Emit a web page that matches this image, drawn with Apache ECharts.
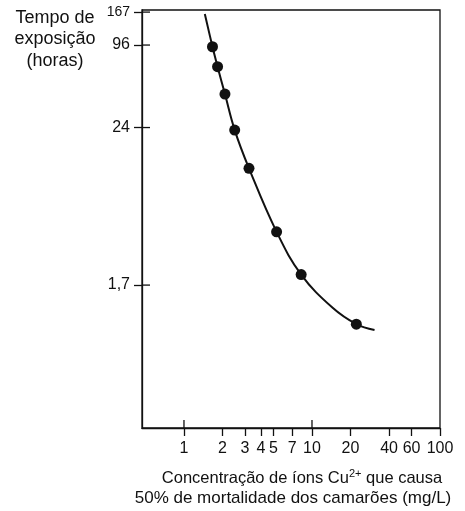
<!DOCTYPE html>
<html>
<head>
<meta charset="utf-8">
<script src="https://cdn.jsdelivr.net/npm/echarts@6/dist/echarts.min.js"></script>
<style>
html,body{margin:0;padding:0;background:#fff;}
#chart{width:465px;height:511px;}
</style>
</head>
<body>
<div id="chart"></div>
<script>
// Data points (concentration mg/L, exposure time hours)
const pointConc = [1.67, 1.83, 2.09, 2.49, 3.22, 5.29, 8.23, 22.2];
const pointTime = [93.3, 66.7, 42.1, 23.0, 12.1, 4.16, 2.03, 0.882];
// Fitted curve drawn through the points
const curveConc = [1.455, 1.67, 1.83, 2.09, 2.49, 3.22, 5.29, 8.23, 14.5, 22.2, 30.8];
const curveTime = [161.7, 93.3, 66.7, 42.1, 23.0, 12.1, 4.16, 2.03, 1.16, 0.882, 0.798];
// Tick labels
const xTicks = [1, 2, 3, 4, 5, 7, 10, 20, 40, 60, 100];
const xMajorTicks = [1, 10];
const yTicks = [1.7, 24, 96, 167];
// Axis ranges
const xMin = 0.47, xMax = 100;
const yMin = 0.154, yMax = 173;

const FONT = 'Liberation Sans, Arial, sans-serif';
const INK = '#111111';

const chart = echarts.init(document.getElementById('chart'), null, {renderer: 'canvas'});
const pts = pointConc.map((c, i) => [c, pointTime[i]]);
const curve = curveConc.map((c, i) => [c, curveTime[i]]);

const axisLineStyle = {color: INK, width: 1.3};
const TICK_IN = 8;

// inner halves of the crossing ticks, placed through the axes' own scales
function innerTick(dir) {
  return function (params, api) {
    const p = api.coord([api.value(0), api.value(1)]);
    const shape = dir === 'y'
      ? {x1: p[0], y1: p[1], x2: p[0] + TICK_IN, y2: p[1]}
      : {x1: p[0], y1: p[1], x2: p[0], y2: p[1] - TICK_IN};
    return {type: 'line', shape: shape, style: {stroke: INK, lineWidth: 1.3}};
  };
}

chart.setOption({
  animation: false,
  backgroundColor: '#fff',
  grid: {left: 142, right: 25, top: 10, bottom: 83, show: true, borderColor: INK, borderWidth: 1.3, backgroundColor: 'transparent'},
  xAxis: {
    type: 'log', logBase: 10, min: xMin, max: xMax, position: 'bottom',
    axisLine: {show: true, lineStyle: axisLineStyle},
    axisTick: {show: true, customValues: xTicks, length: 8, lineStyle: axisLineStyle},
    axisLabel: {show: true, customValues: xTicks, margin: 13, fontSize: 16, color: INK, fontFamily: FONT},
    splitLine: {show: false}, minorTick: {show: false}, minorSplitLine: {show: false}
  },
  yAxis: {
    type: 'log', logBase: 10, min: yMin, max: yMax, position: 'left',
    axisLine: {show: true, lineStyle: axisLineStyle},
    axisTick: {show: true, customValues: yTicks, length: 8, lineStyle: axisLineStyle},
    axisLabel: {
      show: true, customValues: yTicks, margin: 12, fontSize: 16, color: INK, fontFamily: FONT,
      formatter: v => {
        if (Math.abs(v - 1.7) < 0.01) return '1,7';
        if (Math.abs(v - 167) < 0.5) return '{s|167}';
        return String(Math.round(v));
      },
      rich: {s: {fontSize: 14, color: INK, fontFamily: FONT}}
    },
    splitLine: {show: false}, minorTick: {show: false}
  },
  series: [
    {
      type: 'line', data: curve, smooth: 0.4,
      symbol: 'none', lineStyle: {color: INK, width: 2}, z: 2
    },
    {
      type: 'scatter', data: pts,
      symbol: 'circle', symbolSize: 11, itemStyle: {color: INK, opacity: 1}, z: 3
    },
    {
      type: 'custom', clip: false, silent: true, z: 4,
      data: yTicks.map(v => [xMin, v]),
      renderItem: innerTick('y')
    },
    {
      type: 'custom', clip: false, silent: true, z: 4,
      data: xMajorTicks.map(v => [v, yMin]),
      renderItem: innerTick('x')
    }
  ],
  graphic: [
    {
      type: 'text', x: 55, y: 7,
      style: {
        text: 'Tempo de\nexposição\n(horas)', align: 'center', verticalAlign: 'top',
        fontSize: 18, lineHeight: 21.5, fill: INK, fontFamily: FONT
      }
    },
    {
      type: 'text', x: 302, y: 468,
      style: {
        text: 'Concentração de íons Cu{sup|2+} que causa', align: 'center', verticalAlign: 'top',
        fontSize: 16.5, lineHeight: 20, fill: INK, fontFamily: FONT,
        rich: {sup: {fontSize: 11, verticalAlign: 'top', lineHeight: 20, fill: INK, fontFamily: FONT, padding: [0, 0, 8, 0]}}
      }
    },
    {
      type: 'text', x: 293, y: 488,
      style: {
        text: '50% de mortalidade dos camarões (mg/L)', align: 'center', verticalAlign: 'top',
        fontSize: 17, lineHeight: 20, fill: INK, fontFamily: FONT
      }
    }
  ]
});
</script>
</body>
</html>
